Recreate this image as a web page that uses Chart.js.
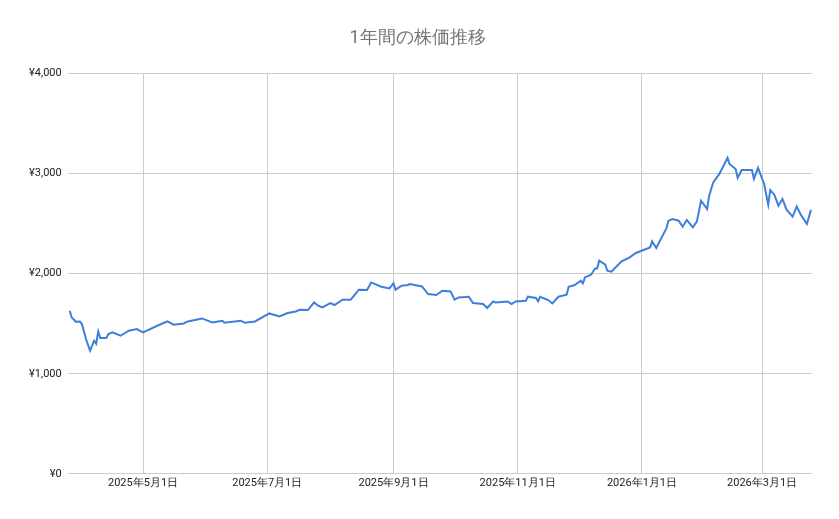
<!DOCTYPE html>
<html>
<head>
<meta charset="utf-8">
<script src="https://cdn.jsdelivr.net/npm/chart.js@4"></script>
<style>body{margin:0;background:#fff}</style>
</head>
<body>
<canvas id="c" width="839" height="519"></canvas>
<script>
// days since 2025-03-25
const days = [1,2,4,6,7,9,11,13,14,15,16,19,20,22,26,30,34,37,44,49,52,57,59,66,71,76,77,85,87,92,99,104,108,112,114,118,121,123,125,129,131,135,139,143,147,149,154,158,160,161,164,167,168,174,177,181,184,188,190,192,197,199,204,206,209,210,216,218,220,225,226,230,231,232,236,238,241,245,246,249,252,253,254,257,259,260,261,264,265,267,272,276,279,286,287,289,294,295,297,300,302,304,307,309,311,314,315,317,320,324,325,328,329,331,336,337,339,342,344,345,347,349,351,353,356,358,360,363,365];
const prices = [1630,1563,1520,1523,1497,1347,1230,1330,1300,1423,1357,1357,1397,1413,1380,1430,1447,1413,1480,1523,1490,1503,1523,1553,1513,1530,1510,1530,1510,1523,1603,1573,1607,1623,1640,1637,1713,1680,1663,1707,1687,1740,1740,1840,1837,1913,1870,1853,1903,1840,1880,1887,1897,1873,1797,1787,1830,1823,1740,1763,1770,1707,1697,1657,1723,1713,1723,1697,1723,1730,1770,1757,1723,1770,1737,1703,1770,1790,1870,1887,1930,1903,1963,1990,2053,2053,2130,2090,2030,2020,2123,2163,2207,2263,2323,2257,2453,2530,2547,2530,2470,2537,2463,2523,2730,2647,2780,2913,2997,3157,3097,3047,2957,3037,3037,2947,3057,2897,2690,2837,2790,2680,2747,2640,2570,2673,2590,2497,2640];
const tickDays = [37,98,160,221,282,341];
const tickLabels = ['2025年5月1日','2025年7月1日','2025年9月1日','2025年11月1日','2026年1月1日','2026年3月1日'];
const yTicks = [0,1000,2000,3000,4000];

const font = 'Roboto, Arial, sans-serif';
new Chart(document.getElementById('c'), {
  type: 'line',
  data: {
    datasets: [{
      data: days.map((d, i) => ({x: d, y: prices[i]})),
      borderColor: '#3f7fdc',
      borderWidth: 2,
      pointRadius: 0,
      tension: 0
    }]
  },
  options: {
    responsive: false,
    animation: false,
    layout: {padding: {left: 23, right: 27, top: 2, bottom: 26}},
    plugins: {
      legend: {display: false},
      tooltip: {enabled: false},
      title: {display: true, text: '1年間の株価推移', color: '#757575',
        font: {family: font, size: 18, weight: 'normal'}, padding: {top: 26, bottom: 24}}
    },
    scales: {
      x: {
        type: 'linear', min: 0, max: 365.5,
        afterBuildTicks: s => { s.ticks = tickDays.map(v => ({value: v})); },
        ticks: {callback: (v) => tickLabels[tickDays.indexOf(v)], color: '#222',
          font: {family: font, size: 11}, maxRotation: 0, autoSkip: false},
        grid: {color: '#cccccc', drawTicks: false},
        border: {display: false}
      },
      y: {
        min: 0, max: 4000,
        afterBuildTicks: s => { s.ticks = yTicks.map(v => ({value: v})); },
        ticks: {callback: v => '¥' + v.toLocaleString('en-US'), color: '#222',
          font: {family: font, size: 11}, padding: 6},
        grid: {color: '#cccccc', drawTicks: false},
        border: {display: false}
      }
    }
  }
});
</script>
</body>
</html>
